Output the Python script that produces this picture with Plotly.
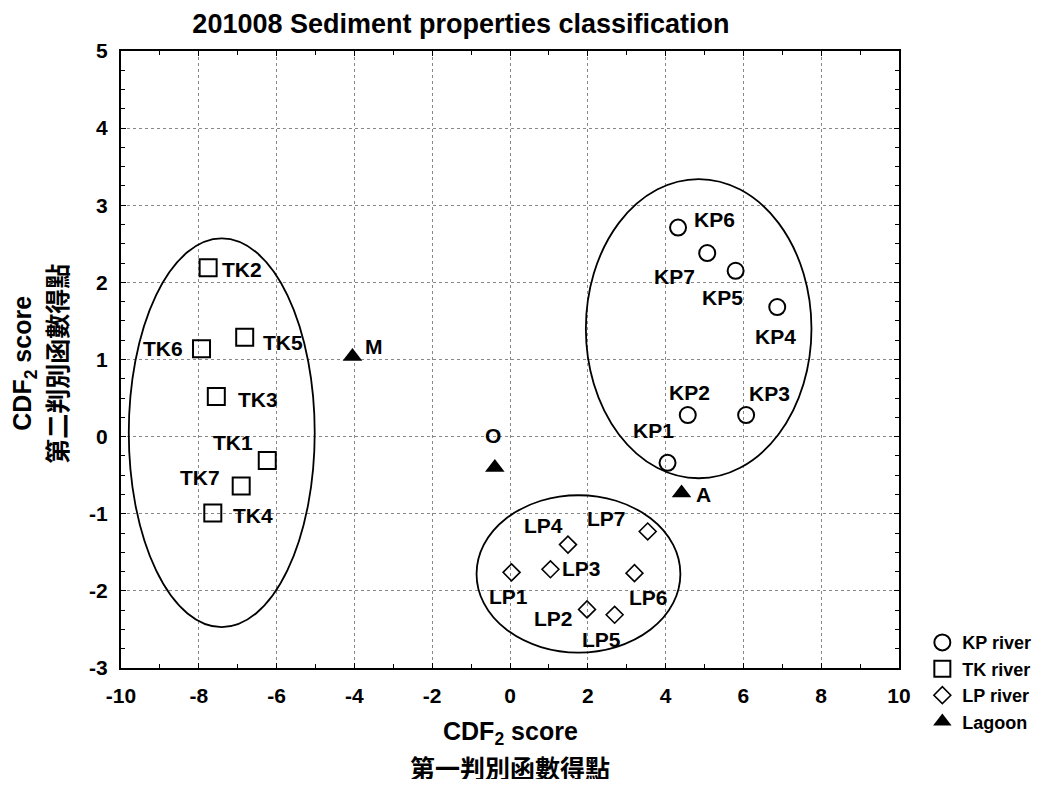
import plotly.graph_objects as go

# ---------------- data ----------------
kp_names = ["KP1", "KP2", "KP3", "KP4", "KP5", "KP6", "KP7"]
kp_x = [4.05, 4.57, 6.07, 6.87, 5.80, 4.32, 5.07]
kp_y = [-0.34, 0.28, 0.28, 1.68, 2.15, 2.71, 2.38]

tk_names = ["TK1", "TK2", "TK3", "TK4", "TK5", "TK6", "TK7"]
tk_x = [-6.24, -7.76, -7.55, -7.64, -6.82, -7.93, -6.91]
tk_y = [-0.31, 2.19, 0.52, -0.99, 1.29, 1.14, -0.64]

lp_names = ["LP1", "LP2", "LP3", "LP4", "LP5", "LP6", "LP7"]
lp_x = [0.04, 1.98, 1.04, 1.49, 2.69, 3.20, 3.54]
lp_y = [-1.76, -2.24, -1.72, -1.40, -2.31, -1.77, -1.23]

lag_names = ["M", "O", "A"]
lag_x = [-4.05, -0.39, 4.41]
lag_y = [1.04, -0.40, -0.73]

# group ellipses: centre x, centre y, radius x, radius y
ell_names = ["KP", "TK", "LP"]
ell_cx = [4.85, -7.41, 1.76]
ell_cy = [1.40, 0.05, -1.78]
ell_rx = [2.90, 2.39, 2.62]
ell_ry = [1.94, 2.52, 1.02]

x_ticks = [-10, -8, -6, -4, -2, 0, 2, 4, 6, 8, 10]
y_ticks = [-3, -2, -1, 0, 1, 2, 3, 4, 5]

# ---------------- label offsets (pixels: right, up) ----------------
kp_off = [(-14, 32), (2, 23), (23, 22), (-2, -29), (-13, -27), (36, 8), (-33, -23)]
tk_off = [(-34, 18), (34, -2), (42, -3), (40, -3), (38, -5), (-39, 0), (-41, 8)]
lp_off = [(-3, -24), (-34, -9), (31, 1), (-24, 19), (-13, -25), (14, -24), (-41, 13)]
lag_off = [(22, 10), (-2, 32), (22, -2)]

FONT = "Liberation Sans, Arial, sans-serif"
CJK = "Noto Sans CJK TC, Noto Sans CJK SC, sans-serif"

fig = go.Figure()

mk_line = dict(color="black", width=2)
fig.add_trace(go.Scatter(x=kp_x, y=kp_y, mode="markers", name="KP river",
                         marker=dict(symbol="circle-open", size=16, line=mk_line, color="black")))
fig.add_trace(go.Scatter(x=tk_x, y=tk_y, mode="markers", name="TK river",
                         marker=dict(symbol="square-open", size=17, line=mk_line, color="black")))
fig.add_trace(go.Scatter(x=lp_x, y=lp_y, mode="markers", name="LP river",
                         marker=dict(symbol="diamond-open", size=13, line=dict(color="black", width=1.6), color="black")))
fig.add_trace(go.Scatter(x=lag_x, y=lag_y, mode="markers", name="Lagoon",
                         marker=dict(symbol="triangle-up", size=17, color="black", line=dict(width=0))))

# ellipses
for cx, cy, rx, ry in zip(ell_cx, ell_cy, ell_rx, ell_ry):
    fig.add_shape(type="circle", xref="x", yref="y",
                  x0=cx - rx, x1=cx + rx, y0=cy - ry, y1=cy + ry,
                  line=dict(color="black", width=1.8))

# point labels
def add_labels(names, xs, ys, offs):
    for n, x, y, (dx, dy) in zip(names, xs, ys, offs):
        fig.add_annotation(x=x, y=y, xref="x", yref="y", text=n, showarrow=False,
                           xshift=dx, yshift=dy, xanchor="center", yanchor="middle",
                           font=dict(family=FONT, size=21, color="black", weight="bold"))

add_labels(kp_names, kp_x, kp_y, kp_off)
add_labels(tk_names, tk_x, tk_y, tk_off)
add_labels(lp_names, lp_x, lp_y, lp_off)
add_labels(lag_names, lag_x, lag_y, lag_off)

# axis titles
fig.add_annotation(x=0.5, y=-0.105, xref="paper", yref="paper", showarrow=False,
                   text="CDF<sub>2</sub> score", xanchor="center", yanchor="middle",
                   font=dict(family=FONT, size=25, color="black", weight="bold"))
fig.add_annotation(x=0.5, y=-0.161, xref="paper", yref="paper", showarrow=False,
                   text="第一判別函數得點", xanchor="center", yanchor="middle",
                   font=dict(family=CJK, size=25, color="black", weight="bold"))
fig.add_annotation(x=-0.124, y=0.494, xref="paper", yref="paper", showarrow=False,
                   text="CDF<sub>2</sub> score", xanchor="center", yanchor="middle", textangle=-90,
                   font=dict(family=FONT, size=25, color="black", weight="bold"))
fig.add_annotation(x=-0.083, y=0.494, xref="paper", yref="paper", showarrow=False,
                   text="第二判別函數得點", xanchor="center", yanchor="middle", textangle=-90,
                   font=dict(family=CJK, size=25, color="black", weight="bold"))

axis_common = dict(
    showline=True, linecolor="black", linewidth=2, mirror="ticks",
    ticks="inside", ticklen=5, tickwidth=1, tickcolor="black",
    showgrid=True, gridcolor="#888888", griddash="dot", gridwidth=1,
    zeroline=False,
    tickfont=dict(family=FONT, size=21, color="black", weight="bold"),
)

fig.update_xaxes(range=[-10, 10], tickvals=x_ticks, ticktext=[str(v) for v in x_ticks],
                 minor=dict(dtick=1, ticks="inside", ticklen=4, tickcolor="black", showgrid=False),
                 ticklabelstandoff=8, **axis_common)
fig.update_yaxes(range=[-3, 5], tickvals=y_ticks, ticktext=[str(v) for v in y_ticks],
                 minor=dict(dtick=0.25, ticks="inside", ticklen=4, tickcolor="black", showgrid=False),
                 ticklabelstandoff=7, **axis_common)

# page body has an 8px default margin: figure sized so the page fits the window exactly
fig.update_layout(
    width=1048, height=771,
    margin=dict(l=113, r=157, t=42.5, b=110.5),
    paper_bgcolor="white", plot_bgcolor="white",
    title=dict(text="201008 Sediment properties classification", x=0.437, xref="paper",
               xanchor="center", y=1 - 16 / 771, yref="container", yanchor="middle",
               font=dict(family=FONT, size=27, color="black", weight="bold")),
    showlegend=True,
    legend=dict(x=1.03, y=0.071, xanchor="left", yanchor="top",
                font=dict(family=FONT, size=18, color="black", weight="bold"),
                bgcolor="rgba(0,0,0,0)", itemsizing="trace"),
)

fig.write_html("out.html")
